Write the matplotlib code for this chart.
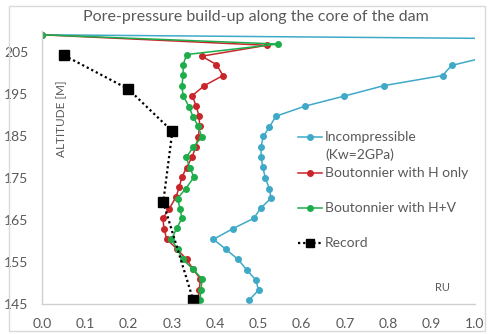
import matplotlib
matplotlib.use("Agg")
import matplotlib.pyplot as plt
from matplotlib.lines import Line2D
from matplotlib.patches import Rectangle

plt.rcParams['font.family'] = ['Lato', 'DejaVu Sans']

# ---- data ----
incomp_alt = [209.1, 206.9, 204.4, 201.8, 199.4, 197.0, 194.5, 192.1, 189.7, 187.1, 184.9,
              182.5, 180.1, 177.6, 174.9, 172.5, 170.2, 167.8, 165.4, 162.9, 160.4, 158.0,
              155.6, 153.1, 150.7, 148.3, 146.0]
incomp_ru = [0.0, 2.6, 1.05, 0.946, 0.925, 0.790, 0.698, 0.607, 0.540, 0.525, 0.511,
             0.506, 0.506, 0.510, 0.516, 0.525, 0.529, 0.505, 0.489, 0.440, 0.396, 0.425,
             0.453, 0.473, 0.494, 0.500, 0.479]

honly_alt = [209.1, 206.6, 204.0, 202.0, 199.4, 197.0, 194.6, 192.1, 189.7, 187.3, 184.8,
             182.3, 179.9, 177.5, 175.2, 172.8, 170.4, 167.7, 165.4, 162.9, 160.4, 158.2,
             155.6, 153.3, 150.9, 148.3, 146.0]
honly_ru = [0.0, 0.519, 0.369, 0.403, 0.418, 0.375, 0.347, 0.356, 0.363, 0.364, 0.361,
            0.355, 0.346, 0.334, 0.323, 0.317, 0.309, 0.294, 0.279, 0.282, 0.288, 0.311,
            0.334, 0.349, 0.366, 0.363, 0.361]

hv_alt = [209.1, 206.9, 204.4, 202.0, 199.6, 196.8, 194.6, 191.9, 189.5, 187.3, 184.8,
          182.3, 179.9, 177.3, 175.2, 172.5, 170.1, 167.7, 165.4, 163.0, 160.4, 158.0,
          155.6, 153.3, 150.9, 148.3, 146.0]
hv_ru = [0.0, 0.546, 0.334, 0.326, 0.326, 0.323, 0.326, 0.340, 0.349, 0.361, 0.369,
         0.349, 0.333, 0.342, 0.351, 0.332, 0.313, 0.319, 0.323, 0.311, 0.299, 0.313,
         0.325, 0.349, 0.370, 0.367, 0.365]

record_alt = [204.2, 196.2, 186.1, 169.2, 146.0]
record_ru = [0.051, 0.199, 0.301, 0.280, 0.349]

labels = ["Incompressible\n(Kw=2GPa)", "Boutonnier with H only", "Boutonnier with H+V", "Record"]
xticks = [0.0, 0.1, 0.2, 0.3, 0.4, 0.5, 0.6, 0.7, 0.8, 0.9, 1.0]
yticks = [145, 155, 165, 175, 185, 195, 205]

c_blue = '#3FA9C8'
c_red = '#C8262A'
c_green = '#1DAE4B'
c_text = '#595959'
c_axis = '#D0D0D0'

fig = plt.figure(figsize=(4.89, 3.34), dpi=100)
ax = fig.add_axes([42/489, 1-304/334, (475-42)/489, (304-31)/334])

lw = 1.1
ms = 4
dot = (0, (1, 1.3))
ax.plot(incomp_ru, incomp_alt, color=c_blue, lw=lw, marker='o', ms=ms)
ax.plot(honly_ru, honly_alt, color=c_red, lw=lw, marker='o', ms=ms)
ax.plot(hv_ru, hv_alt, color=c_green, lw=lw, marker='o', ms=ms)
ax.plot(record_ru, record_alt, color='black', lw=1.6, ls=dot, marker='s', ms=6.5)

ax.set_xlim(0, 1.0)
ax.set_ylim(145, 210)
ax.set_xticks(xticks)
ax.set_xticklabels([f"{v:.1f}" for v in xticks])
ax.set_yticks(yticks)
for s in ['top', 'right']:
    ax.spines[s].set_visible(False)
for s in ['left', 'bottom']:
    ax.spines[s].set_color(c_axis)
    ax.spines[s].set_linewidth(1.0)
ax.tick_params(length=0, labelsize=10, labelcolor=c_text)
ax.tick_params(axis='x', pad=10)
ax.tick_params(axis='y', pad=10)

fig.text(256/489, 1-17/334, "Pore-pressure build-up along the core of the dam",
         ha='center', va='center', fontsize=11.5, color=c_text)
ax.text(0.046, 0.678, "ALTITUDE [M]", transform=ax.transAxes, rotation=90,
        ha='center', va='center', fontsize=8.5, color=c_text)
ax.text(0.924, 0.059, "RU", transform=ax.transAxes, ha='center', va='center',
        fontsize=8, color=c_text)

# manual legend (figure pixel coordinates)
def px(x, y):
    return (x/489, 1-y/334)

entries = [
    (c_blue, '-', 'o', 4, 137, labels[0]),
    (c_red, '-', 'o', 4, 173, labels[1]),
    (c_green, '-', 'o', 4, 208, labels[2]),
    ('black', dot, 's', 6, 243, labels[3]),
]
for col, ls, mk, msz, yy, lab in entries:
    x0, y0 = px(298, yy)
    x1, _ = px(322, yy)
    fig.add_artist(Line2D([x0, x1], [y0, y0], color=col, ls=ls, lw=1.1 if mk == 'o' else 1.6,
                          transform=fig.transFigure))
    xm, _ = px(310, yy)
    fig.add_artist(Line2D([xm], [y0], color=col, marker=mk, ms=msz, ls='none',
                          transform=fig.transFigure))
    for i, line in enumerate(lab.split('\n')):
        tx, ty = px(325, yy + 18 * i)
        fig.text(tx, ty, line, ha='left', va='center', fontsize=10, color=c_text)

# chart border
fig.add_artist(Rectangle((9/489, 1-331/334), (485-9)/489, (331-6)/334, fill=False,
                         edgecolor='#D9D9D9', lw=1.0, transform=fig.transFigure))

fig.savefig("out.png", dpi=100)
